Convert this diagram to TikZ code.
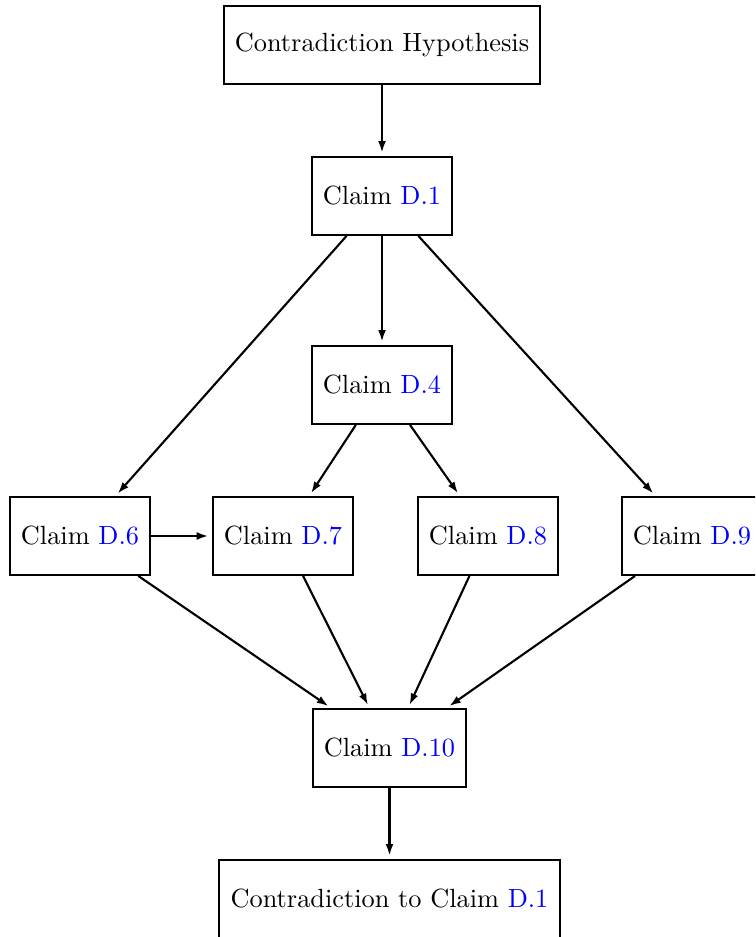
\documentclass[tikz,border=0pt]{standalone}
\usetikzlibrary{arrows.meta}
\newcommand{\clref}[1]{\textcolor{blue}{#1}}
\begin{document}
\begin{tikzpicture}[x=0.38pt,y=-0.38pt,
  claimbox/.style={draw,line width=0.75pt,inner xsep=4.3pt,minimum height=29.6pt,font=\normalsize},
  link/.style={line width=0.8pt,-{Latex[length=4.4pt,width=3pt]},shorten >=1.3pt}]
\clip (0,0) rectangle (755,937);
\useasboundingbox (0,0) rectangle (755,937);

\node[claimbox] (hyp) at (382,45) {Contradiction Hypothesis};
\node[claimbox] (d1) at (382,196) {Claim \clref{D.1}};
\node[claimbox] (d4) at (382,385) {Claim \clref{D.4}};
\node[claimbox] (d6) at (80,536) {Claim \clref{D.6}};
\node[claimbox] (d7) at (283,536) {Claim \clref{D.7}};
\node[claimbox] (d8) at (488,536) {Claim \clref{D.8}};
\node[claimbox] (d9) at (692,536) {Claim \clref{D.9}};
\node[claimbox] (d10) at (389.5,748) {Claim \clref{D.10}};
\node[claimbox] (end) at (389.5,899) {Contradiction to Claim \clref{D.1}};

\draw[link] (hyp) -- (d1);
\draw[link] (d1) -- (d4);
\draw[link] (d1) -- (d6);
\draw[link] (d1) -- (d9);
\draw[link] (d4) -- (d7);
\draw[link] (d4) -- (d8);
\draw[link] (d6) -- (d7);
\draw[link] (d6) -- (d10);
\draw[link] (d7) -- (d10);
\draw[link] (d8) -- (d10);
\draw[link] (d9) -- (d10);
\draw[link] (d10) -- (end);
\end{tikzpicture}
\end{document}
